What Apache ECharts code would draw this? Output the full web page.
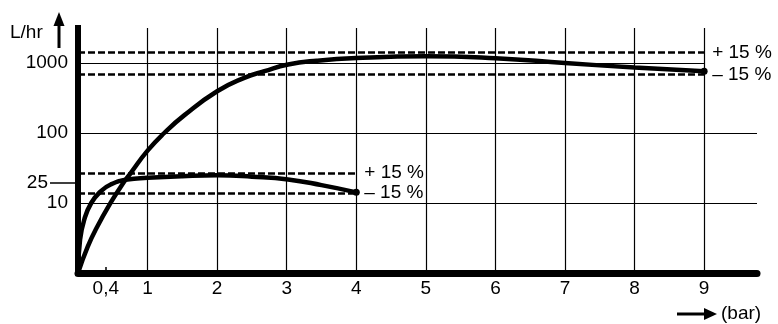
<!DOCTYPE html>
<html>
<head>
<meta charset="utf-8">
<script src="https://cdn.jsdelivr.net/npm/echarts@6/dist/echarts.min.js"></script>
<style>
html,body{margin:0;padding:0;background:#fff;}
#chart{width:778px;height:324px;}
</style>
</head>
<body>
<div id="chart"></div>
<script>
// ---- data ----
const xTickValues = [0.4, 1, 2, 3, 4, 5, 6, 7, 8, 9];
const xGridValues = [1, 2, 3, 4, 5, 6, 7, 8, 9];
const yTickValues = [10, 100, 1000];
const yMarkerValue = 19.3;       // position of the "25" marker
const yMarkerLabel = '25';
const bigCurveX = [0, 0.14, 0.28, 0.47, 0.62, 0.76, 1.0, 1.24, 1.53, 2.0, 2.39, 2.68, 3.02, 3.43, 4, 5, 6, 7, 8, 9];
const bigCurveY = [1, 2.38, 4.66, 10.1, 17.4, 27, 56, 100, 180, 395, 614, 764, 950, 1078, 1179, 1246, 1167, 1000, 860, 760];
const smallCurveX = [0, 0.03, 0.09, 0.19, 0.33, 0.47, 0.71, 1.0, 1.5, 2.0, 2.5, 3.02, 3.5, 4.0];
const smallCurveY = [1, 3.0, 5.8, 10, 14.8, 18.4, 21.7, 22.9, 24.2, 24.9, 23.8, 21.7, 18.0, 14.2];
const upperBandHigh = 1422, upperBandLow = 680, upperBandEndX = 9;
const lowerBandHigh = 27.0, lowerBandLow = 14.0, lowerBandEndX = 4;
const bandPlusLabel = '+ 15 %';
const bandMinusLabel = '\u2013 15 %';

const FONT = 'Liberation Sans, Arial, Helvetica, sans-serif';
const FS = 19;
const BLACK = '#000';

function pairs(xs, ys) {
  return xs.map((x, i) => {
    const item = { value: [x, ys[i]] };
    if (i === xs.length - 1) { item.symbol = 'circle'; item.symbolSize = 7; }
    return item;
  });
}

const gridStyle = { color: BLACK, width: 1.2, type: 'solid' };
const gridMarks = [];
xGridValues.forEach(v => gridMarks.push({ xAxis: v }));
gridMarks.push({ yAxis: 10 });
gridMarks.push({ yAxis: 100 });
gridMarks.push([{ coord: [0, 1000] }, { coord: [upperBandEndX, 1000] }]);

const dashStyle = { color: BLACK, width: 2.5, type: [7, 3] };
const bandLabel = (txt) => ({ show: true, position: 'end', formatter: txt, color: BLACK, fontSize: FS, fontFamily: FONT, distance: 8 });
const bandMarks = [
  [{ coord: [0, upperBandHigh] }, { coord: [upperBandEndX, upperBandHigh], label: bandLabel(bandPlusLabel) }],
  [{ coord: [0, upperBandLow] }, { coord: [upperBandEndX, upperBandLow], label: bandLabel(bandMinusLabel) }],
  [{ coord: [0, lowerBandHigh] }, { coord: [lowerBandEndX, lowerBandHigh], label: bandLabel(bandPlusLabel) }],
  [{ coord: [0, lowerBandLow] }, { coord: [lowerBandEndX, lowerBandLow], label: bandLabel(bandMinusLabel) }]
];

const chart = echarts.init(document.getElementById('chart'), null, { renderer: 'canvas' });
chart.setOption({
  animation: false,
  backgroundColor: '#fff',
  grid: { left: 78, right: 21, top: 28, bottom: 51, containLabel: false },
  xAxis: {
    type: 'value', min: 0, max: 9.76,
    axisLine: { show: true, lineStyle: { color: BLACK, width: 7 } },
    axisTick: { show: true, customValues: [0.4], inside: true, length: 6, lineStyle: { color: BLACK, width: 1.5 } },
    axisLabel: { customValues: xTickValues, formatter: v => String(v).replace('.', ','), color: BLACK, fontSize: FS, fontFamily: FONT, margin: 6 },
    splitLine: { show: false }
  },
  yAxis: [
    {
      type: 'log', logBase: 10, min: 1, max: 3162,
      axisLine: { show: true, lineStyle: { color: BLACK, width: 6, cap: 'square' } },
      axisTick: { show: false },
      axisLabel: {
        customValues: yTickValues,
        formatter: v => String(Math.round(v)),
        color: BLACK, fontSize: FS, fontFamily: FONT, margin: 10
      },
      splitLine: { show: false }
    },
    {
      type: 'log', logBase: 10, min: 1, max: 3162, position: 'left',
      axisLine: { show: false },
      axisTick: { show: true, customValues: [yMarkerValue], length: 28, lineStyle: { color: BLACK, width: 1.5 } },
      axisLabel: { customValues: [yMarkerValue], formatter: () => yMarkerLabel, color: BLACK, fontSize: FS, fontFamily: FONT, margin: 30 },
      splitLine: { show: false }
    }
  ],
  series: [
    {
      name: 'grid', type: 'line', data: [], silent: true,
      markLine: { silent: true, symbol: 'none', label: { show: false }, lineStyle: gridStyle, data: gridMarks }
    },
    {
      name: 'bands', type: 'line', data: [], silent: true,
      markLine: { silent: true, symbol: 'none', lineStyle: dashStyle, label: { show: false }, data: bandMarks }
    },
    {
      name: 'big', type: 'line', smooth: 0.5, symbol: 'none', showSymbol: true,
      lineStyle: { color: BLACK, width: 4.5 }, itemStyle: { color: BLACK },
      data: pairs(bigCurveX, bigCurveY), z: 5
    },
    {
      name: 'small', type: 'line', smooth: 0.5, symbol: 'none', showSymbol: true,
      lineStyle: { color: BLACK, width: 4.5 }, itemStyle: { color: BLACK },
      data: pairs(smallCurveX, smallCurveY), z: 5
    }
  ],
  graphic: [
    { type: 'text', left: 10, top: 23, style: { text: 'L/hr', fill: BLACK, font: FS + 'px ' + FONT } },
    { type: 'line', shape: { x1: 59, y1: 48, x2: 59, y2: 22 }, style: { stroke: BLACK, lineWidth: 3 } },
    { type: 'polygon', shape: { points: [[53.5, 26], [64.5, 26], [59, 12]] }, style: { fill: BLACK } },
    { type: 'line', shape: { x1: 677, y1: 314, x2: 706, y2: 314 }, style: { stroke: BLACK, lineWidth: 3 } },
    { type: 'polygon', shape: { points: [[704, 308], [704, 320], [717, 314]] }, style: { fill: BLACK } },
    { type: 'text', left: 721, top: 304, style: { text: '(bar)', fill: BLACK, font: FS + 'px ' + FONT } }
  ]
});
</script>
</body>
</html>
